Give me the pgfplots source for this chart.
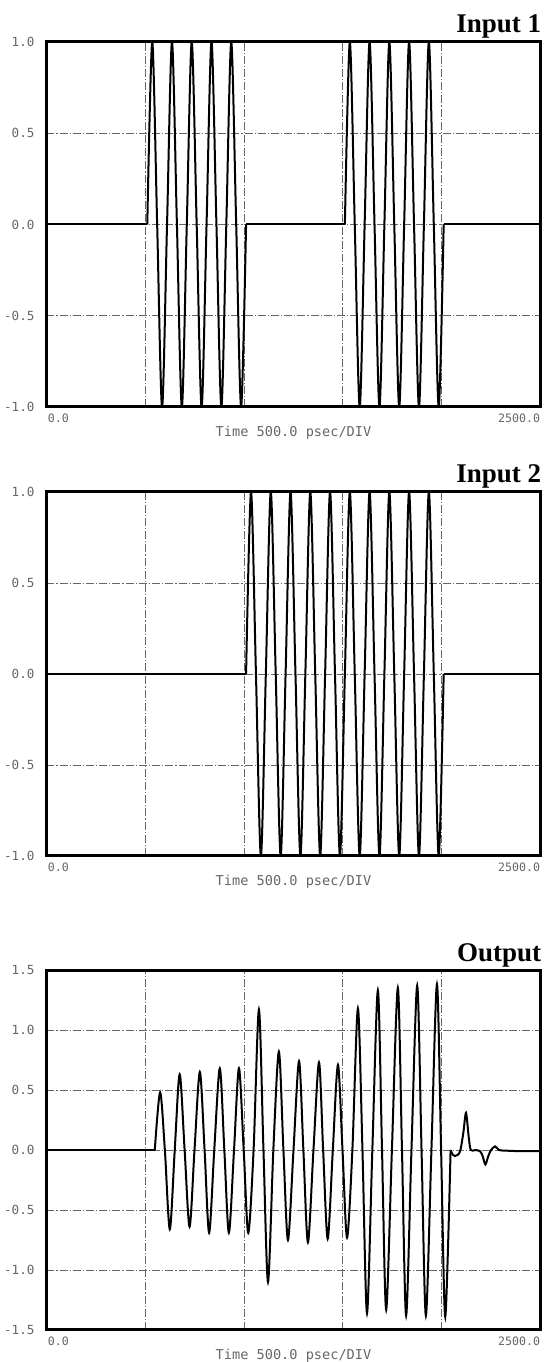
\documentclass[border=0pt]{standalone}
\usepackage{fontspec}
\setmainfont{Liberation Serif}
\newfontfamily\tickfont{DejaVu Sans Mono}
\usepackage{pgfplots}
\pgfplotsset{compat=1.18}
\pgfplotsset{
  scopeaxis/.style={
    scale only axis, width=247pt, xmin=0, xmax=2500,
    xtick={0,500,1000,1500,2000,2500}, xticklabels={},
    xmajorgrids, ymajorgrids,
    major grid style={black!60, line width=0.4pt, dash pattern=on 4pt off 1pt on 0.6pt off 1pt},
    major tick length=0pt,
    axis line style={line width=1.5pt},
    yticklabel style={font=\tickfont\fontsize{6.3}{7}\selectfont, text=black!60, xshift=-2.5pt},
    clip mode=individual,
  },
  sig/.style={black, line width=1pt},
}
\newcommand{\ttl}[1]{\node[anchor=base east, inner sep=0pt, font=\bfseries\fontsize{13.5}{16}\selectfont] at (rel axis cs:1,1) [yshift=4.5pt, xshift=0.5pt] {#1};}
\newcommand{\xlab}{%
  \node[anchor=north west, inner sep=0pt, font=\tickfont\fontsize{5.8}{6}\selectfont, text=black!60] at (rel axis cs:0,0) [yshift=-3pt, xshift=0.5pt] {0.0};
  \node[anchor=north east, inner sep=0pt, font=\tickfont\fontsize{5.8}{6}\selectfont, text=black!60] at (rel axis cs:1,0) [yshift=-3pt] {2500.0};
  \node[anchor=center, inner sep=0pt, font=\tickfont\fontsize{6.8}{7}\selectfont, text=black!60] at (rel axis cs:0.5,0) [yshift=-13pt] {Time 500.0 psec/DIV};}
\begin{document}
\begin{tikzpicture}
\path[use as bounding box] (0,0) rectangle (272.5pt,681pt);
% ---------------- Input 1
\begin{axis}[scopeaxis, at={(23.25pt,477.5pt)}, anchor=south west, height=182.5pt,
  ymin=-1, ymax=1, ytick={-1,-0.5,0,0.5,1}, yticklabels={-1.0,-0.5,0.0,0.5,1.0}]
\addplot[sig] coordinates {(0,0) (510,0)};
\addplot[sig, smooth] coordinates {(510,0) (535,1) (560,0) (585,-1) (610,0) (635,1) (660,0) (685,-1) (710,0) (735,1) (760,0) (785,-1) (810,0) (835,1) (860,0) (885,-1) (910,0) (935,1) (960,0) (985,-1) (1010,0)};
\addplot[sig] coordinates {(1010,0) (1510,0)};
\addplot[sig, smooth] coordinates {(1510,0) (1535,1) (1560,0) (1585,-1) (1610,0) (1635,1) (1660,0) (1685,-1) (1710,0) (1735,1) (1760,0) (1785,-1) (1810,0) (1835,1) (1860,0) (1885,-1) (1910,0) (1935,1) (1960,0) (1985,-1) (2010,0)};
\addplot[sig] coordinates {(2010,0) (2500,0)};
\ttl{Input 1}
\xlab
\end{axis}
% ---------------- Input 2
\begin{axis}[scopeaxis, at={(23.25pt,253pt)}, anchor=south west, height=182pt,
  ymin=-1, ymax=1, ytick={-1,-0.5,0,0.5,1}, yticklabels={-1.0,-0.5,0.0,0.5,1.0}]
\addplot[sig] coordinates {(0,0) (1010,0)};
\addplot[sig, smooth] coordinates {(1010,0) (1035,1) (1060,0) (1085,-1) (1110,0) (1135,1) (1160,0) (1185,-1) (1210,0) (1235,1) (1260,0) (1285,-1) (1310,0) (1335,1) (1360,0) (1385,-1) (1410,0) (1435,1) (1460,0) (1485,-1) (1510,0) (1535,1) (1560,0) (1585,-1) (1610,0) (1635,1) (1660,0) (1685,-1) (1710,0) (1735,1) (1760,0) (1785,-1) (1810,0) (1835,1) (1860,0) (1885,-1) (1910,0) (1935,1) (1960,0) (1985,-1) (2010,0)};
\addplot[sig] coordinates {(2010,0) (2500,0)};
\ttl{Input 2}
\xlab
\end{axis}
% ---------------- Output
\begin{axis}[scopeaxis, at={(23.25pt,16pt)}, anchor=south west, height=180pt,
  ymin=-1.5, ymax=1.5, ytick={-1.5,-1,-0.5,0,0.5,1,1.5}, yticklabels={-1.5,-1.0,-0.5,0.0,0.5,1.0,1.5}]
\addplot[sig] coordinates {(0,0) (548,0)};
\addplot[sig, smooth] coordinates {(548,0) (575,0.48) (599,0) (624,-0.66) (649,0) (674,0.63) (699,0) (724,-0.64) (749,0) (776,0.65) (800,0) (823,-0.69) (849,0) (877,0.68) (900,0) (923,-0.69) (949,0) (974,0.68) (998,0) (1021,-0.69) (1048,0) (1075,1.17) (1098,0) (1121,-1.10) (1148,0) (1176,0.82) (1199,0) (1222,-0.75) (1250,0) (1278,0.74) (1300,0) (1323,-0.77) (1351,0) (1379,0.73) (1400,0) (1423,-0.74) (1449,0) (1475,0.71) (1498,0) (1521,-0.73) (1548,0) (1576,1.18) (1599,0) (1622,-1.36) (1649,0) (1677,1.33) (1698,0) (1719,-1.33) (1748,0) (1778,1.35) (1799,0) (1820,-1.38) (1847,0) (1876,1.37) (1898,0) (1920,-1.38) (1948,0) (1976,1.38) (1997,0) (2018,-1.39) (2045,0)};
\addplot[sig, smooth] coordinates {(2045,0) (2056,-0.04) (2067,-0.05) (2082,-0.04) (2095,0.0) (2110,0.15) (2123,0.31) (2136,0.12) (2147,0) (2170,0) (2194,-0.01) (2207,-0.05) (2221,-0.12) (2236,-0.05) (2250,0.0) (2270,0.03) (2290,0.0) (2320,-0.005) (2400,-0.01) (2500,-0.01)};
\ttl{Output}
\xlab
\end{axis}
\end{tikzpicture}
\end{document}
